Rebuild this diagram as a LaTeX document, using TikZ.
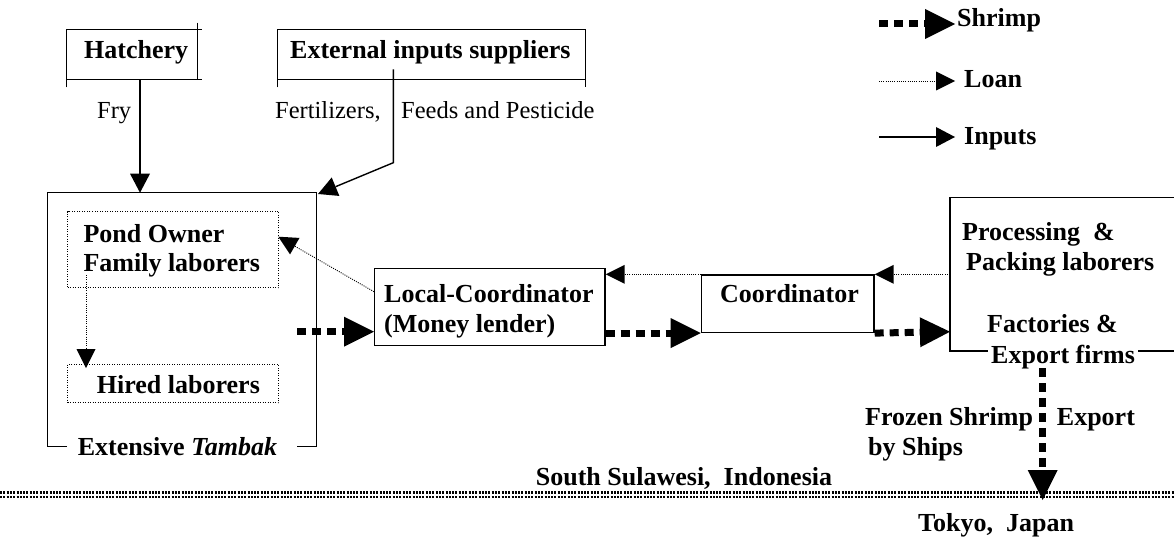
\documentclass[tikz,border=0pt]{standalone}
\usepackage{fontspec}
\setmainfont{Liberation Serif}
\usetikzlibrary{arrows.meta}
\begin{document}
\begin{tikzpicture}[x=1pt,y=-1pt,
  lbl/.style={anchor=base west,inner sep=0pt,font=\fontsize{26}{30}\selectfont\bfseries},
  plain/.style={anchor=base west,inner sep=0pt,font=\fontsize{24.5}{28}\selectfont},
  frame/.style={line width=1.4pt},
  dotbox/.style={draw,line width=1pt,dash pattern=on 1pt off 1.5pt,anchor=north west,inner sep=0pt},
  solidbox/.style={draw,line width=1.4pt,anchor=north west,inner sep=0pt},
  shrimp/.style={line width=7pt,dash pattern=on 9pt off 6pt,-{Triangle[length=30pt,width=30pt,line width=0pt]}},
  loan/.style={line width=0.9pt,dash pattern=on 1pt off 1.2pt,-{Triangle[length=19pt,width=19pt,line width=0pt]}},
  inputs/.style={line width=1.4pt,-{Triangle[length=19pt,width=20pt,line width=0pt]}},
  border/.style={line width=2.2pt,dash pattern=on 2pt off 1.3pt}]
\useasboundingbox (0,0) rectangle (1174,540);

% ---- legend ----
\coordinate (lgA1) at (879,24);  \coordinate (lgA2) at (955,24);
\coordinate (lgB1) at (879,81);  \coordinate (lgB2) at (955,81);
\coordinate (lgC1) at (879,137); \coordinate (lgC2) at (955,137);
\draw[shrimp] (lgA1) -- (lgA2);
\draw[loan] (lgB1) -- (lgB2);
\draw[inputs] (lgC1) -- (lgC2);
\node[lbl] (lgShrimp) at (957,27) {Shrimp};
\node[lbl] (lgLoan) at (964,88) {Loan};
\node[lbl] (lgInputs) at (964,145) {Inputs};

% ---- hatchery ----
\draw[frame] (66.7,87.3) -- (66.7,29.3) -- (201.7,29.3);
\draw[frame] (197.7,22.7) -- (197.7,80);
\draw[frame] (66.7,79.3) -- (201.7,79.3);
\node[lbl] (hatch) at (84,58.3) {Hatchery};

% ---- external inputs suppliers ----
\draw[frame] (277.7,87.3) -- (277.7,29.3) -- (585.5,29.3) -- (585.5,87.3);
\draw[frame] (277.7,79.3) -- (585.5,79.3);
\node[lbl] (ext) at (290,58.3) {External inputs suppliers};

% ---- extensive tambak ----
\draw[frame] (67,446.7) -- (47.3,446.7) -- (47.3,192.7) -- (316.7,192.7) -- (316.7,446.7) -- (297,446.7);
\node[lbl] (tambak) at (77.7,455) {Extensive \textit{Tambak}};
\node[dotbox,minimum width=211pt,minimum height=76pt] (pond) at (67,211) {};
\node[dotbox,minimum width=211pt,minimum height=38pt] (hired) at (67,364) {};
\node[lbl] (pondA) at (83.3,242.3) {Pond Owner};
\node[lbl] (pondB) at (83.3,271.7) {Family laborers};
\node[lbl] (hiredT) at (96.7,393.3) {Hired laborers};

% ---- coordinators ----
\node[solidbox,minimum width=230.3pt,minimum height=77pt] (lc) at (374,268) {};
\node[lbl] (lcA) at (384,302) {Local-Coordinator};
\node[lbl] (lcB) at (384,332) {(Money lender)};
\node[solidbox,minimum width=172.6pt,minimum height=57.4pt] (co) at (700.7,274.3) {};
\node[lbl] (coT) at (720,302.7) {Coordinator};

% ---- processing / factories ----
\draw[frame] (1174,197.7) -- (950,197.7) -- (950,351) -- (988,351);
\draw[frame] (1138,351) -- (1174,351);
\node[lbl] (procA) at (962,240.7) {Processing\ \ \&};
\node[lbl] (procB) at (966,270.7) {Packing laborers};
\node[lbl] (procC) at (987,332.7) {Factories \&};
\node[lbl] (procD) at (991,363.3) {Export firms};

% ---- connector end points ----
\coordinate (hatchOut) at (140,79.3);
\coordinate (tambakTop) at (140,192.7);
\coordinate (extSrc) at (393.3,69.3);
\coordinate (extBend) at (393.3,162.7);
\coordinate (tambakCorner) at (318,194);
\coordinate (tambakOut) at (297,331.7);
\coordinate (lcLoanOut) at (374,291.7);
\coordinate (pondIn) at (278.3,236.7);
\coordinate (pondOut) at (86,275);
\coordinate (hiredIn) at (86,368);
\coordinate (procLoan) at (950,274.3);
\coordinate (procIn) at (950,331.7);
\coordinate (expOut) at (1042.7,368);
\coordinate (tokyo) at (1042.7,500);

% ---- inputs ----
\draw[inputs] (hatchOut) -- (tambakTop);
\draw[inputs] (extSrc) -- (extBend) -- (tambakCorner);
\node[plain] (fry) at (97,118.3) {Fry};
\node[plain] (fert) at (275,118.3) {Fertilizers,};
\node[plain] (feeds) at (401,118.3) {Feeds and Pesticide};

% ---- shrimp flow ----
\draw[shrimp] (tambakOut) -- (lc.west |- tambakOut);
\draw[shrimp] (lc.east |- co.south) -- (co.south west);
\draw[shrimp] (co.south east) -- (procIn);
\draw[shrimp] (expOut) -- (tokyo);

% ---- loans ----
\draw[loan] (procLoan) -- (co.north east);
\draw[loan] (co.north west) -- (lc.east |- co.north);
\draw[loan] (lcLoanOut) -- (pondIn);
\draw[loan] (pondOut) -- (hiredIn);

% ---- export and border ----
\node[lbl] (frozen) at (865,425) {Frozen Shrimp};
\node[lbl] (export) at (1056.7,425) {Export};
\node[lbl] (ships) at (868,455) {by Ships};
\draw[border] (0,492.5) -- (1174,492.5);
\draw[border] (0,497.3) -- (1174,497.3);
\node[lbl] (sulawesi) at (535.7,485) {South Sulawesi,\ \ Indonesia};
\node[lbl] (japan) at (918,531.7) {Tokyo,\ \ Japan};
\end{tikzpicture}
\end{document}
